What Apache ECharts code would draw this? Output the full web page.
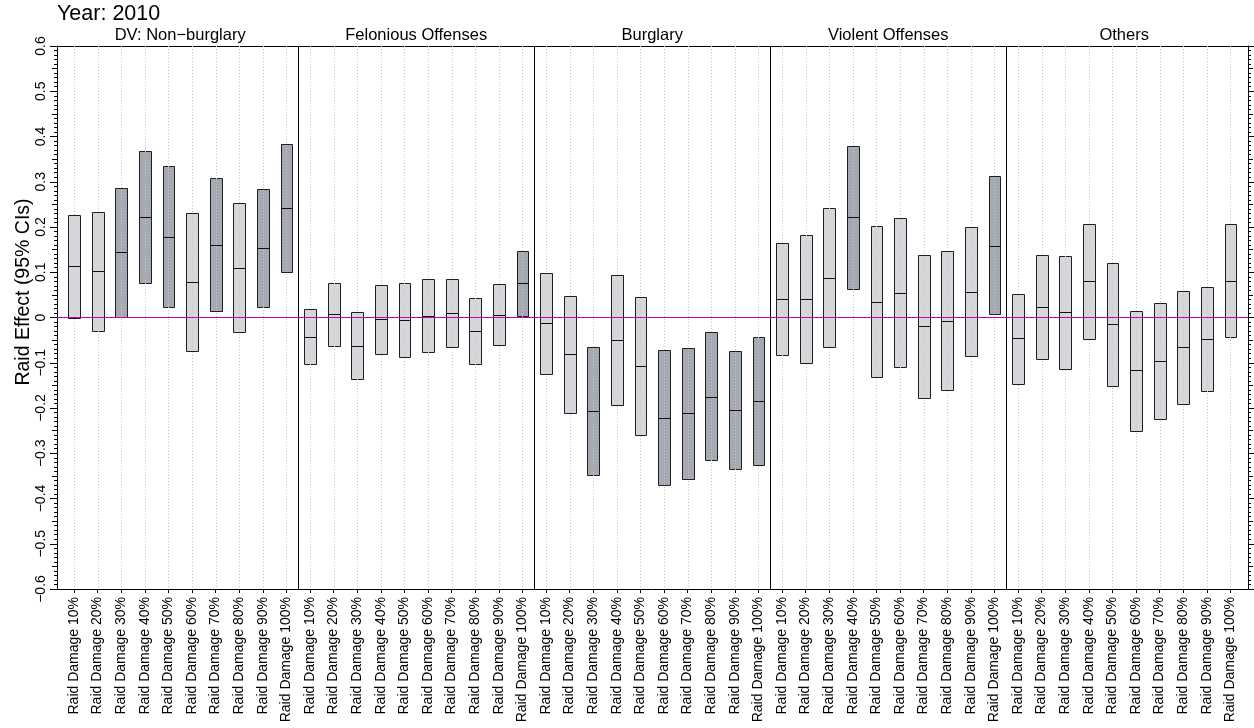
<!DOCTYPE html>
<html>
<head>
<meta charset="utf-8">
<title>Raid Effect by Damage Level, 2010</title>
<script src="https://cdn.jsdelivr.net/npm/echarts@6/dist/echarts.min.js"></script>
<style>
  html, body { margin: 0; padding: 0; background: #fff; }
  #chart { width: 1254px; height: 728px; }
</style>
</head>
<body>
<div id="chart"></div>
<script>
// Outcome panels, left to right
const panels = ['DV: Non\u2212burglary', 'Felonious Offenses', 'Burglary', 'Violent Offenses', 'Others'];

// Treatment levels inside each panel
const damageLevels = [
  'Raid Damage 10%', 'Raid Damage 20%', 'Raid Damage 30%', 'Raid Damage 40%', 'Raid Damage 50%',
  'Raid Damage 60%', 'Raid Damage 70%', 'Raid Damage 80%', 'Raid Damage 90%', 'Raid Damage 100%'
];

// Point estimates, one row per panel
const pointEst = [
  [0.113, 0.102, 0.144, 0.222, 0.179, 0.079, 0.161, 0.110, 0.154, 0.243],
  [-0.042, 0.008, -0.063, -0.004, -0.005, 0.004, 0.010, -0.029, 0.006, 0.076],
  [-0.013, -0.081, -0.206, -0.050, -0.107, -0.221, -0.212, -0.175, -0.205, -0.184],
  [0.041, 0.041, 0.088, 0.222, 0.035, 0.055, -0.019, -0.007, 0.057, 0.159],
  [-0.046, 0.023, 0.013, 0.080, -0.015, -0.117, -0.097, -0.066, -0.047, 0.081]
];

// Lower bounds of the 95% confidence intervals
const ciLower = [
  [-0.002, -0.029, 0.001, 0.077, 0.024, -0.074, 0.015, -0.032, 0.023, 0.101],
  [-0.102, -0.062, -0.137, -0.081, -0.087, -0.076, -0.066, -0.103, -0.061, 0.003],
  [-0.125, -0.212, -0.347, -0.194, -0.260, -0.371, -0.356, -0.316, -0.334, -0.325],
  [-0.082, -0.101, -0.066, 0.064, -0.132, -0.110, -0.177, -0.161, -0.084, 0.007],
  [-0.147, -0.092, -0.113, -0.047, -0.152, -0.251, -0.225, -0.192, -0.163, -0.043]
];

// Upper bounds of the 95% confidence intervals
const ciUpper = [
  [0.226, 0.234, 0.286, 0.367, 0.334, 0.231, 0.308, 0.253, 0.284, 0.384],
  [0.018, 0.077, 0.013, 0.071, 0.076, 0.084, 0.085, 0.044, 0.073, 0.148],
  [0.099, 0.048, -0.066, 0.094, 0.046, -0.071, -0.068, -0.033, -0.074, -0.044],
  [0.165, 0.183, 0.243, 0.379, 0.203, 0.220, 0.139, 0.147, 0.199, 0.312],
  [0.053, 0.139, 0.137, 0.207, 0.120, 0.015, 0.032, 0.059, 0.068, 0.206]
];

const Y_MIN = -0.6;
const Y_MAX = 0.6;

const FONT = 'Liberation Sans, Arial, Helvetica, sans-serif';
const FILL_NS = '#d5d7db';   // interval covers zero
const FILL_SIG = '#a5a9b1';  // interval excludes zero

// One unique key per (panel, level) slot along the shared x axis
const categories = [];
panels.forEach(p => damageLevels.forEach(l => categories.push(p + '|' + l)));

// [slot index, lower, upper, estimate]
const intervals = [];
panels.forEach((p, pi) => {
  damageLevels.forEach((l, li) => {
    intervals.push([pi * damageLevels.length + li, ciLower[pi][li], ciUpper[pi][li], pointEst[pi][li]]);
  });
});

function crisp(v) { return Math.round(v) + 0.5; }

function renderInterval(params, api) {
  const x = api.value(0);
  const lo = api.value(1);
  const hi = api.value(2);
  const est = api.value(3);
  const top = api.coord([x, hi]);
  const bot = api.coord([x, lo]);
  const mid = api.coord([x, est]);
  const gTop = api.coord([x, Y_MAX]);
  const gBot = api.coord([x, Y_MIN]);
  const w = api.size([1, 0])[0] * 0.5;
  const x0 = crisp(top[0] - w / 2);
  const x1 = crisp(top[0] + w / 2);
  const y0 = crisp(top[1]);
  const y1 = crisp(bot[1]);
  const ym = crisp(mid[1]);
  const gx = crisp(top[0]);
  const sig = lo > 0 || hi < 0;
  return {
    type: 'group',
    children: [
      {
        type: 'rect',
        shape: { x: x0, y: y0, width: x1 - x0, height: y1 - y0 },
        style: { fill: sig ? FILL_SIG : FILL_NS, stroke: '#1e1e1e', lineWidth: 1 }
      },
      {
        type: 'line',
        shape: { x1: gx, y1: gTop[1], x2: gx, y2: gBot[1] },
        style: { stroke: '#c8c8c8', lineWidth: 1, lineDash: [1, 2] }
      },
      {
        type: 'line',
        shape: { x1: x0, y1: ym, x2: x1, y2: ym },
        style: { stroke: '#111', lineWidth: 1 }
      }
    ]
  };
}

function fmtTick(v) {
  const r = Math.round(v * 10) / 10;
  if (r === 0) return '0';
  return (r < 0 ? '\u2212' : '') + Math.abs(r).toFixed(1);
}

const frameGrid = { left: 57, right: 6, top: 46, bottom: 139, outerBoundsMode: 'none', containLabel: false };
const slotGrid = { left: 62.2, right: 11.8, top: 46, bottom: 139, outerBoundsMode: 'none', containLabel: false };

const blackLine = { show: true, onZero: false, lineStyle: { color: '#000', width: 1 } };

const chart = echarts.init(document.getElementById('chart'), null, { renderer: 'canvas' });

chart.setOption({
  animation: false,
  backgroundColor: '#fff',
  textStyle: { fontFamily: FONT, color: '#000' },
  title: {
    text: 'Year: 2010',
    left: 57,
    top: 3,
    padding: 0,
    textStyle: { fontFamily: FONT, fontSize: 21.5, fontWeight: 'normal', color: '#000' }
  },
  graphic: [{
    type: 'text',
    x: 24,
    y: 292,
    rotation: Math.PI / 2,
    style: {
      text: 'Raid Effect (95% CIs)',
      font: '19.5px ' + FONT,
      fill: '#000',
      textAlign: 'center',
      textVerticalAlign: 'middle'
    }
  }],
  grid: [frameGrid, slotGrid],
  xAxis: [
    // frame: bottom edge
    {
      type: 'value', gridIndex: 0, min: 0, max: 1, position: 'bottom',
      axisLine: blackLine, axisTick: { show: false }, axisLabel: { show: false }, splitLine: { show: false }
    },
    // frame: top edge
    {
      type: 'value', gridIndex: 0, min: 0, max: 1, position: 'top',
      axisLine: blackLine, axisTick: { show: false }, axisLabel: { show: false }, splitLine: { show: false }
    },
    // damage levels
    {
      type: 'category', gridIndex: 1, position: 'bottom', data: categories, boundaryGap: true,
      axisLine: { show: false, onZero: false },
      axisTick: { show: true, alignWithLabel: true, interval: 0, length: 4, lineStyle: { color: '#000', width: 1 } },
      axisLabel: {
        show: true, interval: 0, rotate: 90, margin: 8, fontSize: 14, fontFamily: FONT, color: '#000',
        formatter: v => v.split('|')[1]
      },
      splitLine: { show: false }
    },
    // panel names with separators
    {
      type: 'category', gridIndex: 1, position: 'top', data: panels, boundaryGap: true,
      axisLine: { show: false, onZero: false },
      axisTick: { show: false },
      axisLabel: { show: true, interval: 0, margin: 2, fontSize: 16.5, fontFamily: FONT, color: '#000' },
      splitLine: { show: true, interval: 0, showMinLine: false, showMaxLine: false, lineStyle: { color: '#000', width: 1, type: 'solid' } }
    }
  ],
  yAxis: [
    // left: labelled ticks every 0.1, minor every 0.01
    {
      type: 'value', gridIndex: 0, position: 'left', min: Y_MIN, max: Y_MAX, interval: 0.1,
      axisLine: blackLine,
      axisTick: { show: true, length: 7, lineStyle: { color: '#000', width: 1 } },
      minorTick: { show: true, splitNumber: 10, length: 3, lineStyle: { color: '#000', width: 1 } },
      axisLabel: { show: true, rotate: 90, margin: 9, fontSize: 14, fontFamily: FONT, color: '#000', formatter: fmtTick },
      splitLine: { show: false }
    },
    // left: mid ticks every 0.05
    {
      type: 'value', gridIndex: 0, position: 'left', min: Y_MIN, max: Y_MAX, interval: 0.05,
      axisLine: { show: false, onZero: false },
      axisTick: { show: true, length: 5, lineStyle: { color: '#000', width: 1 } },
      axisLabel: { show: false }, splitLine: { show: false }
    },
    // right: unlabelled ticks
    {
      type: 'value', gridIndex: 0, position: 'right', min: Y_MIN, max: Y_MAX, interval: 0.1,
      axisLine: blackLine,
      axisTick: { show: true, length: 7, lineStyle: { color: '#000', width: 1 } },
      minorTick: { show: true, splitNumber: 10, length: 3, lineStyle: { color: '#000', width: 1 } },
      axisLabel: { show: false }, splitLine: { show: false }
    },
    {
      type: 'value', gridIndex: 0, position: 'right', min: Y_MIN, max: Y_MAX, interval: 0.05,
      axisLine: { show: false, onZero: false },
      axisTick: { show: true, length: 5, lineStyle: { color: '#000', width: 1 } },
      axisLabel: { show: false }, splitLine: { show: false }
    },
    // scale for the interval marks
    {
      type: 'value', gridIndex: 1, min: Y_MIN, max: Y_MAX, show: false, splitLine: { show: false }
    }
  ],
  series: [
    {
      type: 'custom',
      name: 'Raid effect',
      xAxisIndex: 2,
      yAxisIndex: 4,
      renderItem: renderInterval,
      encode: { x: 0, y: [1, 2] },
      data: intervals,
      silent: true,
      z: 2
    },
    {
      // reference line at zero effect, across the full frame
      type: 'line',
      xAxisIndex: 0,
      yAxisIndex: 0,
      data: [[0, 0], [1, 0]],
      showSymbol: false,
      symbol: 'none',
      lineStyle: { color: '#c000c0', width: 1 },
      silent: true,
      z: 5
    }
  ]
});
</script>
</body>
</html>
